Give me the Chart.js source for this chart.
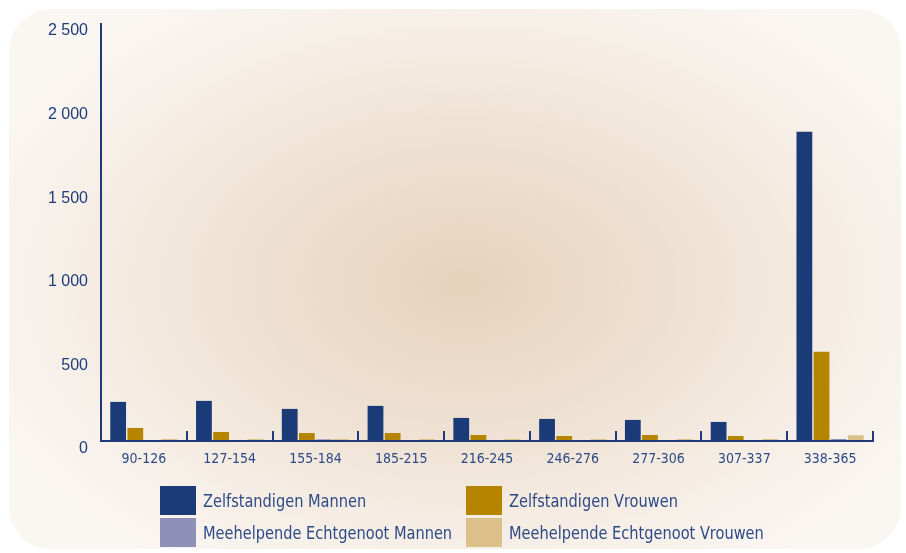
<!DOCTYPE html>
<html>
<head>
<meta charset="utf-8">
<script src="https://cdn.jsdelivr.net/npm/chart.js@4/dist/chart.umd.min.js"></script>
<style>
    body { margin: 0; background: #ffffff; }
    #wrap { position: relative; width: 906px; height: 553px; }
    #panel {
        position: absolute; left: 9px; top: 9px; width: 892px; height: 540px;
        border-radius: 42px;
        background: radial-gradient(ellipse 520px 340px at 455px 275px, #e6d2bb 0%, #efe2d4 45%, #f7f0e9 80%, #faf6f2 100%);
    }
    #myChart { position: absolute; left: 0; top: 0; }
    #legend { position: absolute; left: 0; top: 0; font-family: 'DejaVu Sans Condensed', 'Liberation Sans Narrow', sans-serif; font-size: 18px; color: #2d4a86; }
    .item { position: absolute; height: 30px; line-height: 30px; white-space: nowrap; }
    .box { position: absolute; left: 0; top: 0; width: 36px; height: 29px; }
    .lbl { position: absolute; left: 43px; top: 0; transform: scaleX(0.9); transform-origin: 0 50%; }
</style>
</head>
<body>
<div id="wrap">
    <div id="panel"></div>
    <canvas id="myChart" width="906" height="553"></canvas>
    <div id="legend"></div>
</div>
<script>
// day ranges
const categories = ['90-126', '127-154', '155-184', '185-215', '216-245', '246-276', '277-306', '307-337', '338-365'];

const zelfMannen = [234, 240, 192, 210, 138, 132, 126, 114, 1850];
const zelfVrouwen = [78, 54, 48, 48, 36, 30, 36, 30, 534];
const meehelpMannen = [6, 6, 10, 6, 6, 6, 6, 6, 12];
const meehelpVrouwen = [12, 12, 12, 12, 12, 12, 12, 12, 34];

const yTicks = [0, 500, 1000, 1500, 2000, 2500];

const axisColor = '#1f3a78';

// little upward tick marks between the groups on the x axis
const groupTicks = {
    id: 'groupTicks',
    afterDatasetsDraw(chart) {
        const ctx = chart.ctx;
        const x = chart.scales.x;
        const bottom = chart.chartArea.bottom;
        const step = (x.right - x.left) / categories.length;
        ctx.save();
        ctx.strokeStyle = axisColor;
        ctx.lineWidth = 2;
        ctx.beginPath();
        for (let i = 1; i <= categories.length; i++) {
            const px = Math.round(x.left + step * i);
            ctx.moveTo(px, bottom - 10);
            ctx.lineTo(px, bottom);
        }
        // axis lines on top of the bars
        ctx.moveTo(x.left, bottom);
        ctx.lineTo(x.right + 1, bottom);
        ctx.moveTo(x.left, chart.chartArea.top);
        ctx.lineTo(x.left, bottom + 1);
        ctx.stroke();
        ctx.restore();
    }
};

const data = {
    labels: categories,
    datasets: [
        { label: 'Zelfstandigen Mannen', backgroundColor: '#1a3a78', data: zelfMannen },
        { label: 'Zelfstandigen Vrouwen', backgroundColor: '#b58500', data: zelfVrouwen },
        { label: 'Meehelpende Echtgenoot Mannen', backgroundColor: '#8e90b8', data: meehelpMannen },
        { label: 'Meehelpende Echtgenoot Vrouwen', backgroundColor: '#dcc08a', data: meehelpVrouwen }
    ]
};

const config = {
    type: 'bar',
    data: data,
    options: {
        responsive: false,
        animation: false,
        layout: { padding: { left: 0, right: 33, top: 23, bottom: 0 } },
        datasets: { bar: { categoryPercentage: 0.8, barPercentage: 0.92 } },
        plugins: {
            legend: { display: false },
            tooltip: { enabled: false }
        },
        scales: {
            x: {
                grid: { display: false, drawTicks: false },
                border: { display: false },
                ticks: {
                    color: '#2d4a86',
                    padding: 10,
                    maxRotation: 0,
                    font: { family: "'DejaVu Sans Condensed', sans-serif", size: 14 }
                },
                afterFit(scale) { scale.height = 112; }
            },
            y: {
                min: 0,
                max: 2500,
                afterBuildTicks(scale) { scale.ticks = yTicks.map(v => ({ value: v })); },
                grid: { display: false, drawTicks: false },
                border: { display: false },
                ticks: {
                    color: '#1f3b7a',
                    padding: 13,
                    labelOffset: 8,
                    font: { family: "'Liberation Sans', Arial, sans-serif", size: 16 },
                    callback: v => String(v).replace(/\B(?=(\d{3})+(?!\d))/g, ' ')
                },
                afterFit(scale) { scale.width = 101; }
            }
        }
    },
    plugins: [groupTicks]
};

const myChart = new Chart(document.getElementById('myChart'), config);

// legend in two columns, built from the datasets
const legendPos = [[160, 486], [466, 486], [160, 518], [466, 518]];
const legendEl = document.getElementById('legend');
myChart.data.datasets.forEach(function(ds, i) {
    const item = document.createElement('div');
    item.className = 'item';
    item.style.left = legendPos[i][0] + 'px';
    item.style.top = legendPos[i][1] + 'px';
    item.innerHTML = '<div class="box" style="background:' + ds.backgroundColor + '"></div><div class="lbl">' + ds.label + '</div>';
    legendEl.appendChild(item);
});
</script>
</body>
</html>
